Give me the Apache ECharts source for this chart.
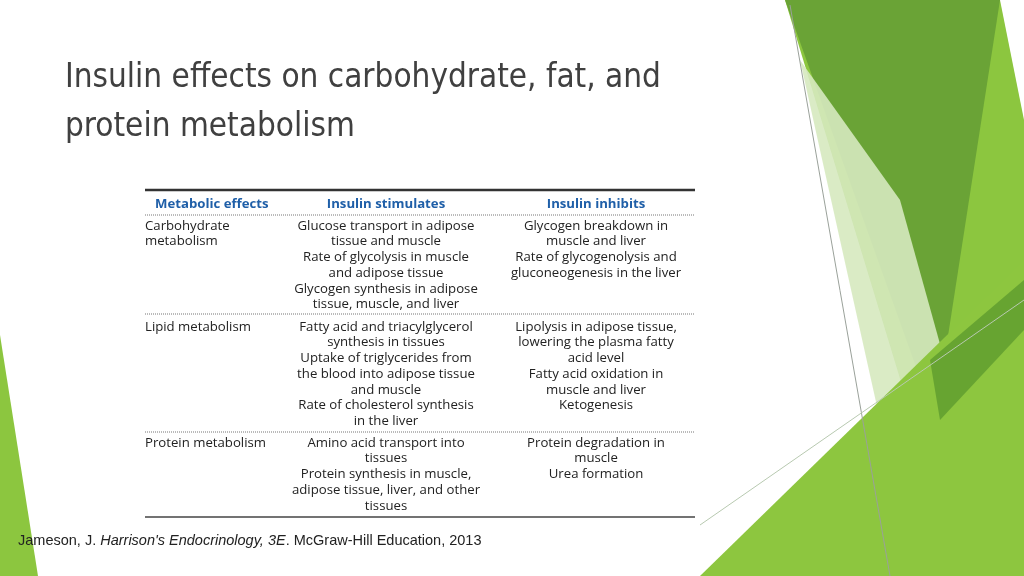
<!DOCTYPE html>
<html>
<head>
    <meta charset="utf-8">
    <title>Insulin effects</title>
    <style>
        html, body { margin: 0; padding: 0; background: #fff; }
        #main { width: 1024px; height: 576px; }
    </style>
</head>
<body>
    <div id="main"></div>
    <script src="https://cdn.jsdelivr.net/npm/echarts@6/dist/echarts.min.js"></script>
    <script>
    // slide text
    var titleLines = ['Insulin effects on carbohydrate, fat, and', 'protein metabolism'];
    var headers = ['Metabolic effects', 'Insulin stimulates', 'Insulin inhibits'];
    var rowNames = [['Carbohydrate', 'metabolism'], ['Lipid metabolism'], ['Protein metabolism']];
    var stimulates = [
        ['Glucose transport in adipose', 'tissue and muscle', 'Rate of glycolysis in muscle', 'and adipose tissue', 'Glycogen synthesis in adipose', 'tissue, muscle, and liver'],
        ['Fatty acid and triacylglycerol', 'synthesis in tissues', 'Uptake of triglycerides from', 'the blood into adipose tissue', 'and muscle', 'Rate of cholesterol synthesis', 'in the liver'],
        ['Amino acid transport into', 'tissues', 'Protein synthesis in muscle,', 'adipose tissue, liver, and other', 'tissues']
    ];
    var inhibits = [
        ['Glycogen breakdown in', 'muscle and liver', 'Rate of glycogenolysis and', 'gluconeogenesis in the liver'],
        ['Lipolysis in adipose tissue,', 'lowering the plasma fatty', 'acid level', 'Fatty acid oxidation in', 'muscle and liver', 'Ketogenesis'],
        ['Protein degradation in', 'muscle', 'Urea formation']
    ];
    var citation = ['Jameson, J. ', "Harrison's Endocrinology, 3E", '. McGraw-Hill Education, 2013'];

    var chart = echarts.init(document.getElementById('main'));
    var g = [];

    // green decoration on the right
    function poly(pts, fill, op) {
        g.push({ type: 'polygon', shape: { points: pts }, style: { fill: fill, opacity: op || 1 }, silent: true });
    }
    poly([[785, 0], [1000, 0], [1024, 120], [1024, 576], [960, 576]], '#8cc63f');
    poly([[785, 0], [1000, 0], [935, 420]], '#6aa336');
    poly([[800, 60], [900, 200], [950, 380], [880, 420]], '#d6e9bf', 0.9);
    poly([[880, 420], [950, 380], [965, 576], [900, 576]], '#b6d88a');
    poly([[700, 576], [1024, 260], [1024, 576]], '#8dc63f');
    poly([[930, 360], [1024, 280], [1024, 330], [940, 420]], '#5e9b2e', 0.8);
    poly([[0, 335], [0, 576], [38, 576]], '#8cc63f');
    g.push({ type: 'line', shape: { x1: 790, y1: 5, x2: 890, y2: 576 }, style: { stroke: '#9aa19a', lineWidth: 1 }, silent: true });
    g.push({ type: 'line', shape: { x1: 700, y1: 525, x2: 1024, y2: 300 }, style: { stroke: '#b8c9b0', lineWidth: 1 }, silent: true });

    // title
    titleLines.forEach(function (t, i) {
        g.push({ type: 'text', x: 65, y: 78 + i * 49, style: { text: t, fill: '#404040', font: '33px "DejaVu Sans Condensed", "DejaVu Sans", sans-serif', textVerticalAlign: 'middle' } });
    });

    // table
    var L = 145, R = 695, cx2 = 386, cx3 = 596, lh = 15.7;
    var tf = '13.2px "Open Sans", sans-serif';
    g.push({ type: 'line', shape: { x1: L, y1: 190, x2: R, y2: 190 }, style: { stroke: '#333', lineWidth: 2.5 } });
    [155, cx2, cx3].forEach(function (x, i) {
        g.push({ type: 'text', x: x, y: 204, style: { text: headers[i], fill: '#1f5fa8', font: 'bold 13.2px "Open Sans", sans-serif', textAlign: i ? 'center' : 'left', textVerticalAlign: 'middle' } });
    });
    var rowTops = [226, 327, 443];
    var seps = [215, 314, 432];
    seps.forEach(function (y) {
        g.push({ type: 'line', shape: { x1: L, y1: y, x2: R, y2: y }, style: { stroke: '#777', lineWidth: 1, lineDash: [1, 1] } });
    });
    g.push({ type: 'line', shape: { x1: L, y1: 517, x2: R, y2: 517 }, style: { stroke: '#444', lineWidth: 1.5 } });
    rowTops.forEach(function (y0, r) {
        rowNames[r].forEach(function (t, k) {
            g.push({ type: 'text', x: L, y: y0 + k * lh, style: { text: t, fill: '#222', font: tf, textVerticalAlign: 'middle' } });
        });
        stimulates[r].forEach(function (t, k) {
            g.push({ type: 'text', x: cx2, y: y0 + k * lh, style: { text: t, fill: '#222', font: tf, textAlign: 'center', textVerticalAlign: 'middle' } });
        });
        inhibits[r].forEach(function (t, k) {
            g.push({ type: 'text', x: cx3, y: y0 + k * lh, style: { text: t, fill: '#222', font: tf, textAlign: 'center', textVerticalAlign: 'middle' } });
        });
    });

    // citation
    g.push({
        type: 'text', x: 18, y: 541,
        style: {
            text: citation[0] + '{i|' + citation[1] + '}' + citation[2],
            fill: '#222', font: '14.5px "Liberation Sans", Arial, sans-serif', textVerticalAlign: 'middle',
            rich: { i: { fontStyle: 'italic', fontSize: 14.5, fontFamily: '"Liberation Sans", Arial, sans-serif', fill: '#222' } }
        }
    });

    chart.setOption({ animation: false, graphic: g });
    addEventListener('resize', chart.resize);
    </script>
</body>
</html>
